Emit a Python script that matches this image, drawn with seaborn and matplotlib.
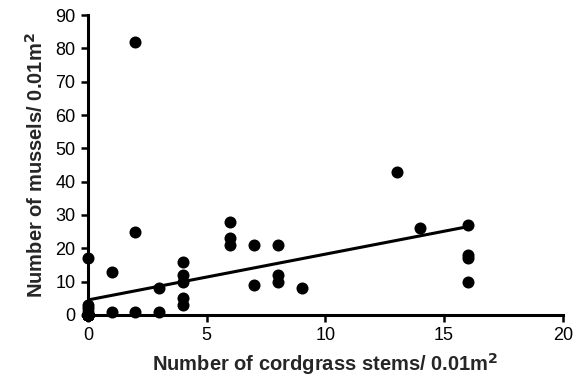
import numpy as np
import pandas as pd
import matplotlib
matplotlib.use("Agg")
import matplotlib.pyplot as plt
import seaborn as sns

# Values.
# Many quadrats sit stacked at the origin (0 stems, 0 mussels); the fitted
# line in the reference only comes out right with those included.
origin_stems = [0] * 20
origin_mussels = [0] * 20
stems = [0, 0, 0, 0, 0, 1, 1, 2, 2, 2, 3, 3, 4, 4, 4, 4, 4,
         6, 6, 6, 7, 7, 8, 8, 8, 9, 13, 14, 16, 16, 16, 16]
mussels = [17, 3, 2, 1, 0, 13, 1, 82, 25, 1, 8, 1, 16, 12, 10, 5, 3,
           28, 23, 21, 21, 9, 21, 12, 10, 8, 43, 26, 27, 18, 17, 10]

df = pd.DataFrame({"stems": stems + origin_stems,
                   "mussels": mussels + origin_mussels})

sns.set_style("white")
plt.rcParams['font.family'] = ['Liberation Sans', 'DejaVu Sans']

fig = plt.figure(figsize=(5.82, 3.78), dpi=100)
ax = fig.add_axes([0.151, 0.167, 0.816, 0.793])

sns.regplot(data=df, x="stems", y="mussels", ax=ax, ci=None,
            scatter_kws={"s": 75, "color": "black", "alpha": 1,
                         "linewidths": 0, "clip_on": False, "zorder": 3},
            line_kws={"color": "black", "linewidth": 2.2, "zorder": 4})

ax.set_xlim(0, 20)
ax.set_ylim(0, 90)
ax.set_xticks(range(0, 21, 5))
ax.set_yticks(range(0, 91, 10))
ax.tick_params(axis="both", direction="out", length=5, width=1.8, labelsize=13,
               bottom=True, left=True, colors="black", pad=4)
for s in ["top", "right"]:
    ax.spines[s].set_visible(False)
for s in ["left", "bottom"]:
    ax.spines[s].set_color("black")
    ax.spines[s].set_linewidth(2.2)

ax.set_xlabel("Number of cordgrass stems/ 0.01m$^\\mathbf{2}$", fontsize=14.5,
              fontweight="bold", labelpad=5)
ax.set_ylabel("Number of mussels/ 0.01m$^\\mathbf{2}$", fontsize=14.5,
              fontweight="bold", labelpad=6)

fig.savefig("out.png", dpi=100)
